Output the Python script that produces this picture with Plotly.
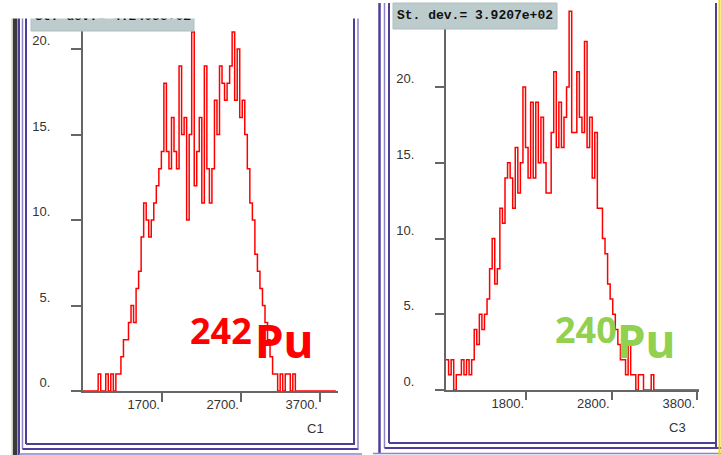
import plotly.graph_objects as go

W, H = 721, 455

# ---------------- data ----------------
pu242_start = 700.0
pu242_width = 32.0
pu242_counts = [0, 0, 0, 0, 0, 0, 1, 0, 0, 1, 0, 1, 0, 1, 1, 2, 3, 3, 4, 5,
                4, 6, 7, 9, 11, 10, 9, 10, 11, 12, 13, 14, 18, 14, 13, 16, 14, 13, 19, 15,
                16, 10, 15, 21, 12, 14, 16, 11, 19, 13, 11, 13, 17, 15, 19, 18, 17, 18, 19, 21,
                17, 20, 16, 17, 15, 13, 11, 10, 8, 7, 6, 5, 4, 3, 2, 1, 1, 0, 1, 0,
                1, 1, 0, 1, 0, 0, 0, 0, 0, 0, 0, 0, 0, 0, 0, 0, 0, 0, 0, 0]
pu242_stdev = "St. dev.= 4.2405e+02"

pu240_start = 864.0
pu240_width = 30.0
pu240_counts = [2, 1, 2, 0, 1, 1, 2, 1, 2, 1, 2, 4, 3, 5, 4, 5, 6, 8, 10, 7,
                8, 12, 11, 14, 15, 14, 12, 16, 13, 15, 20, 16, 14, 19, 14, 19, 15, 18, 15, 13,
                13, 17, 21, 16, 19, 16, 18, 20, 25, 17, 17, 21, 18, 17, 23, 16, 18, 14, 17, 12,
                12, 10, 9, 7, 6, 5, 4, 3, 2, 2, 1, 3, 1, 1, 0, 1, 1, 0, 0, 0,
                1, 0, 0, 0, 0, 0, 0, 0, 0, 0, 0, 0, 0, 0, 0, 0, 0, 0, 0]
pu240_stdev = "St. dev.= 3.9207e+02"

left_yticks = [0, 5, 10, 15, 20]
left_ytick_labels = ["0.", "5.", "10.", "15.", "20."]
left_xticks = [1700, 2700, 3700]
left_xtick_labels = ["1700.", "2700.", "3700."]
right_yticks = [0, 5, 10, 15, 20, 25]
right_ytick_labels = ["0.", "5.", "10.", "15.", "20.", "25."]
right_xticks = [1800, 2800, 3800]
right_xtick_labels = ["1800.", "2800.", "3800."]

# vertical calibration: the page is photographed with its height compressed,
# so positions are computed against the effective visible height
HV = 439.0


def px(x):
    return x / W


def py(y):
    return 1 - y / HV


def steps(start, width, counts):
    xs = [start + i * width for i in range(len(counts) + 1)]
    ys = list(counts) + [counts[-1]]
    return xs, ys


fig = go.Figure()
x1, y1 = steps(pu242_start, pu242_width, pu242_counts)
fig.add_trace(go.Scatter(x=x1, y=y1, mode="lines", line=dict(color="#ff0000", width=1.5, shape="hv"),
                         xaxis="x", yaxis="y", hoverinfo="skip"))
x2, y2 = steps(pu240_start, pu240_width, pu240_counts)
fig.add_trace(go.Scatter(x=x2, y=y2, mode="lines", line=dict(color="#ff0000", width=1.5, shape="hv"),
                         xaxis="x2", yaxis="y2", hoverinfo="skip"))

AX = "#666666"
TF = dict(family="Liberation Sans", size=13, color="#333333")


def xax(dom, rng, tv, tt, anchor, tl):
    return dict(domain=dom, range=rng, anchor=anchor, tickvals=tv, ticktext=tt, ticks="outside",
                ticklen=tl, tickwidth=2, tickcolor=AX, showline=True, linecolor=AX, linewidth=2,
                showgrid=False, zeroline=False, ticklabelposition="outside left", tickfont=TF,
                layer="below traces", fixedrange=True)


def yax(dom, rng, tv, tt, anchor, tl, side="left", labels=True, overlay=None):
    d = dict(domain=dom, range=rng, anchor=anchor, tickvals=tv,
             ticktext=[t + "<br> " for t in tt], ticks="outside", ticklen=tl, tickwidth=2,
             tickcolor=AX, showline=True, linecolor=AX, linewidth=2, showgrid=False,
             zeroline=False, tickfont=TF, side=side, showticklabels=labels,
             ticklabelstandoff=18, layer="below traces", fixedrange=True)
    if overlay:
        d["overlaying"] = overlay
        d.pop("domain")
    return d


yl_rng = [0, (391 - 17) / 17.1]
yr_rng = [0, (390 - 3) / 15.15]

fig.update_layout(
    width=W, height=H, margin=dict(l=0, r=0, t=0, b=0),
    paper_bgcolor="white", plot_bgcolor="white", showlegend=False,
    xaxis=xax([px(83), px(338)], [700, 3928], left_xticks, left_xtick_labels, "y", 9),
    yaxis=yax([py(391), py(17)], yl_rng, left_yticks, left_ytick_labels, "x", 10),
    yaxis3=yax(None, yl_rng, left_yticks, left_ytick_labels, "x", 6, side="right", labels=False, overlay="y"),
    xaxis2=xax([px(446), px(699)], [864, 3823], right_xticks, right_xtick_labels, "y2", 8),
    yaxis2=yax([py(390), py(3)], yr_rng, right_yticks, right_ytick_labels, "x2", 9),
    yaxis4=yax(None, yr_rng, right_yticks, right_ytick_labels, "x2", 7, side="right", labels=False, overlay="y2"),
)

shapes = []
PURP = "#4d3f99"
PURL = "#8d84c6"


def vline(x, y0, y1, color=PURP, w=2):
    shapes.append(dict(type="line", xref="paper", yref="paper", x0=px(x), x1=px(x), y0=py(y0), y1=py(y1),
                       line=dict(color=color, width=w), layer="above"))


def hline(y, x0, x1, color=PURP, w=2):
    shapes.append(dict(type="line", xref="paper", yref="paper", x0=px(x0), x1=px(x1), y0=py(y), y1=py(y),
                       line=dict(color=color, width=w), layer="above"))


def rect(x0, y0, x1, y1, fill, lc=None):
    shapes.append(dict(type="rect", xref="paper", yref="paper", x0=px(x0), x1=px(x1), y0=py(y1), y1=py(y0),
                       fillcolor=fill, line=dict(color=lc or fill, width=1 if lc else 0), layer="above"))


# left panel frame
rect(11.5, 17, 13, 470, "#cfcbbd")
rect(13, 17, 17.5, 470, "#3a3a3a")
vline(19, 17, 470, PURP, 2)
vline(22.5, 17, 449, PURL, 1.5)
vline(26, 17, 444, PURP, 2)
hline(444, 26, 355, PURP, 2)
hline(449, 22.5, 358.5, PURP, 2)
hline(454, 19, 362, PURL, 1.5)
vline(354, 17, 444, PURP, 2)
vline(358, 17, 449, PURL, 1.5)

# right panel frame
vline(379.5, 3, 453, PURP, 2.5)
vline(384.5, 3, 448, PURL, 1.5)
vline(389, 3, 443, PURP, 2)
hline(443, 389, 716, PURP, 2)
hline(448, 384.5, 721, PURP, 2)
hline(453.5, 373, 721, PURL, 1.5)
vline(716, 3, 448, PURP, 2)
vline(719.5, 0, 470, "#f5d800", 2)

# statistics boxes
rect(31, 5, 194, 31, "#bccccc", "#aebfbf")
rect(393, 3, 557, 29, "#bccccc", "#aebfbf")
fig.update_layout(shapes=shapes)

STAT = dict(family="Liberation Mono", size=13, color="#111111", weight="bold")
ann = [
    dict(x=px(113), y=py(17), text=pu242_stdev, font=STAT),
    dict(x=0, y=1, xanchor="left", yanchor="top", text=" ", width=362, height=17,
         bgcolor="white", borderpad=0, font=dict(size=4)),
    dict(x=px(475), y=py(16), text=pu240_stdev, font=STAT),
    dict(x=px(221), y=py(330), text="242", font=dict(family="Noto Sans", size=36, color="#ff0000", weight="bold")),
    dict(x=px(284), y=py(340), text="Pu", font=dict(family="Noto Sans", size=46, color="#ff0000", weight="bold")),
    dict(x=px(586), y=py(329), text="240", font=dict(family="Noto Sans", size=36, color="#92d050", weight="bold")),
    dict(x=px(646), y=py(340), text="Pu", font=dict(family="Noto Sans", size=46, color="#92d050", weight="bold")),
    dict(x=px(315), y=py(428), text="C1", font=TF),
    dict(x=px(677), y=py(427), text="C3", font=TF),
]
for a in ann:
    a.setdefault("xref", "paper")
    a.setdefault("yref", "paper")
    a.setdefault("showarrow", False)
    a.setdefault("xanchor", "center")
    a.setdefault("yanchor", "middle")
fig.update_layout(annotations=ann)

fig.write_html("out.html")
